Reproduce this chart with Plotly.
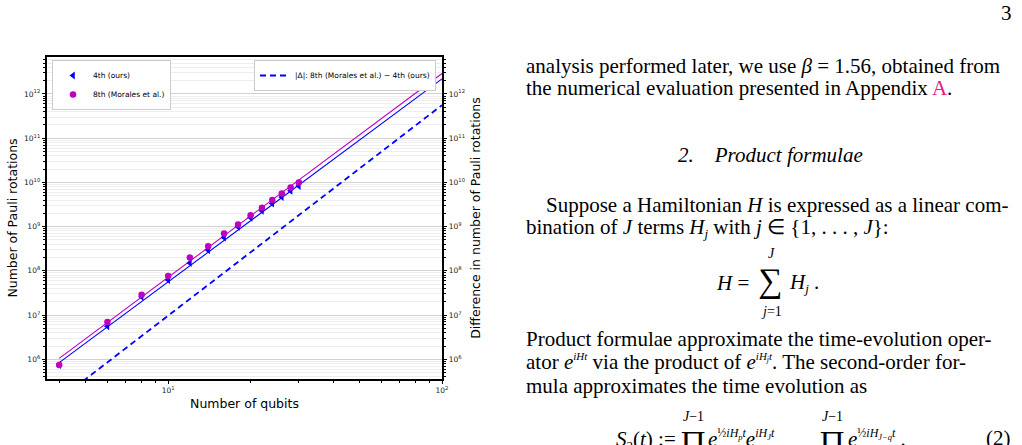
import plotly.graph_objects as go

# ---- data ----
qubits = [4, 6, 8, 10, 12, 14, 16, 18, 20, 22, 24, 26, 28, 30]
rot_4th = [7.5e5, 5.6e6, 2.6e7, 6.2e7, 1.5e8, 2.95e8, 5.7e8, 1.0e9, 1.6e9, 2.3e9, 3.35e9, 4.7e9, 6.5e9, 8.3e9]
rot_8th = [7.4e5, 7.0e6, 2.9e7, 7.7e7, 2.0e8, 3.6e8, 7.0e8, 1.12e9, 1.82e9, 2.67e9, 4.0e9, 5.6e9, 7.7e9, 1.0e10]
fit_qubits = [4, 100]
fit_4th = [8.4e5, 2.2e12]
fit_8th = [1.05e6, 2.9e12]
fit_diff = [1.24e5, 5.6e11]

x_tickvals = [10, 100]
x_ticktext = ["10<sup>1</sup>", "10<sup>2</sup>"]
y_tickvals = [1e6, 1e7, 1e8, 1e9, 1e10, 1e11, 1e12]
y_ticktext = ["10<sup>%d</sup>" % e for e in range(6, 13)]

BLUE = "#0000ff"
MAG = "#bf00bf"
W, H = 1022, 445

x_minor = [k for k in range(4, 10)] + [k * 10 for k in range(2, 10)]
y_minor = [k * 10 ** d for d in range(5, 13) for k in range(2, 10)]

fig = go.Figure()
fig.add_trace(go.Scatter(x=fit_qubits, y=fit_4th, mode="lines", line=dict(color=BLUE, width=1.1),
                         showlegend=False, hoverinfo="skip"))
fig.add_trace(go.Scatter(x=fit_qubits, y=fit_8th, mode="lines", line=dict(color=MAG, width=1.1),
                         showlegend=False, hoverinfo="skip"))
fig.add_trace(go.Scatter(x=qubits, y=rot_4th, mode="markers", name="4th (ours)",
                         marker=dict(symbol="triangle-left", size=7, color=BLUE)))
fig.add_trace(go.Scatter(x=qubits, y=rot_8th, mode="markers", name="8th (Morales et al.)",
                         marker=dict(symbol="circle", size=6.5, color=MAG)))
fig.add_trace(go.Scatter(x=fit_qubits, y=fit_diff, mode="lines", yaxis="y2", legend="legend2",
                         name="|Δ|: 8th (Morales et al.) − 4th (ours)",
                         line=dict(color=BLUE, width=1.8, dash="6px,4px")))

tickfont = dict(family="DejaVu Sans", size=7.5, color="#222")
titlefont = dict(family="DejaVu Sans", size=12.5, color="#000")
yrange = [5.555, 12.836]

fig.update_layout(
    width=W, height=H, margin=dict(l=0, r=0, t=0, b=0),
    paper_bgcolor="white", plot_bgcolor="white",
    xaxis=dict(type="log", range=[0.5575, 2], domain=[47 / W, 442 / W],
               tickvals=x_tickvals, ticktext=x_ticktext, tickfont=tickfont,
               ticks="outside", ticklen=3.5, tickwidth=1, tickcolor="#000",
               showgrid=False, zeroline=False,
               showline=True, linecolor="#000", linewidth=1.5, mirror=True,
               minor=dict(tickvals=x_minor, ticks="outside", ticklen=2, tickcolor="#000", showgrid=False),
               title=dict(text="Number of qubits", font=titlefont, standoff=5),
               automargin=False),
    yaxis=dict(type="log", range=yrange, domain=[1 - 379 / H, 1 - 57 / H],
               tickvals=y_tickvals, ticktext=y_ticktext, tickfont=tickfont,
               ticks="outside", ticklen=3.5, tickwidth=1, tickcolor="#000",
               showgrid=True, gridcolor="#d2d2d2", gridwidth=1, zeroline=False,
               showline=True, linecolor="#000", linewidth=1.5, mirror=True,
               minor=dict(tickvals=y_minor, ticks="outside", ticklen=2, tickcolor="#000",
                          showgrid=True, gridcolor="#eeeeee", gridwidth=0.8),
               title=dict(text="Number of Pauli rotations", font=titlefont, standoff=4),
               automargin=False),
    yaxis2=dict(type="log", range=yrange, overlaying="y", side="right", anchor="x",
                tickvals=y_tickvals, ticktext=y_ticktext, tickfont=tickfont,
                ticks="outside", ticklen=3.5, tickwidth=1, tickcolor="#000",
                showgrid=False, zeroline=False,
                showline=True, linecolor="#000", linewidth=1.5,
                minor=dict(tickvals=y_minor, ticks="outside", ticklen=2, tickcolor="#000", showgrid=False),
                title=dict(text="Difference in number of Pauli rotations", font=titlefont, standoff=7),
                automargin=False),
    legend=dict(x=52 / W, y=1 - 60 / H, xanchor="left", yanchor="top",
                bgcolor="white", bordercolor="#cccccc", borderwidth=1,
                font=dict(family="DejaVu Sans", size=7.5, color="#000"),
                tracegroupgap=0, itemwidth=30),
    legend2=dict(x=436 / W, y=1 - 60 / H, xanchor="right", yanchor="top",
                 bgcolor="white", bordercolor="#cccccc", borderwidth=1,
                 font=dict(family="DejaVu Sans", size=7.5, color="#000"), itemwidth=30),
)

SERIF = "Liberation Serif"
FS = 21


def txt(s, x, y, xanchor="left", size=FS, italic=False):
    fig.add_annotation(text=s, x=x / W, y=1 - y / H, xref="paper", yref="paper",
                       xanchor=xanchor, yanchor="middle", showarrow=False,
                       font=dict(family=SERIF, size=size, color="#000",
                                 style="italic" if italic else "normal"))


def sup(s, px=12):
    return "<sup><span style='font-size:%dpx'>" % px + s + "</span></sup>"


def sub(s):
    return "<sub><span style='font-size:13px'>" + s + "</span></sub>"


txt("3", 1014, 13, xanchor="right")
txt("analysis performed later, we use <i>β</i> = 1.56, obtained from", 524, 66)
txt("the numerical evaluation presented in Appendix <span style='color:#e8178a'>A</span>.", 524, 88)
txt("<i>2.    Product formulae</i>", 770, 155, xanchor="center")
txt("Suppose a Hamiltonian <i>H</i> is expressed as a linear com-", 544, 205)
txt("bination of <i>J</i> terms <i>H</i>" + sub("<i>j</i>") + " with <i>j</i> ∈ {1, . . . , <i>J</i>}:", 524, 228)
# equation H = sum_j H_j
txt("<i>H</i> =", 751, 283, xanchor="right")
txt("∑", 770, 281, xanchor="center", size=34)
txt("<i>J</i>", 771, 253, xanchor="center", size=14)
txt("<i>j</i>=1", 771, 311, xanchor="center", size=14)
txt("<i>H</i>" + sub("<i>j</i>") + " .", 787, 283)
txt("Product formulae approximate the time-evolution oper-", 524, 339)
txt("ator <i>e</i>" + sup("<i>iHt</i>", 11) + " via the product of <i>e</i>" + sup("<i>iH<sub>j</sub>t</i>", 11)
    + ". The second-order for-", 524, 362)
txt("mula approximates the time evolution as", 524, 386)
# equation (2)
txt("<i>S</i>" + sub("2") + "(<i>t</i>) :=", 678, 440, xanchor="right")
txt("∏", 693, 442, xanchor="center", size=32)
txt("<i>J</i>−1", 693, 416, xanchor="center", size=14)
txt("<i>e</i>" + sup("½<i>iH<sub>p</sub>t</i>") + "<i>e</i>" + sup("<i>iH<sub>J</sub>t</i>"), 706, 438)
txt("∏", 832, 442, xanchor="center", size=32)
txt("<i>J</i>−1", 832, 416, xanchor="center", size=14)
txt("<i>e</i>" + sup("½<i>iH<sub>J−q</sub>t</i>") + " .", 846, 438)
txt("(2)", 1013, 438, xanchor="right")

fig.write_html("out.html")
